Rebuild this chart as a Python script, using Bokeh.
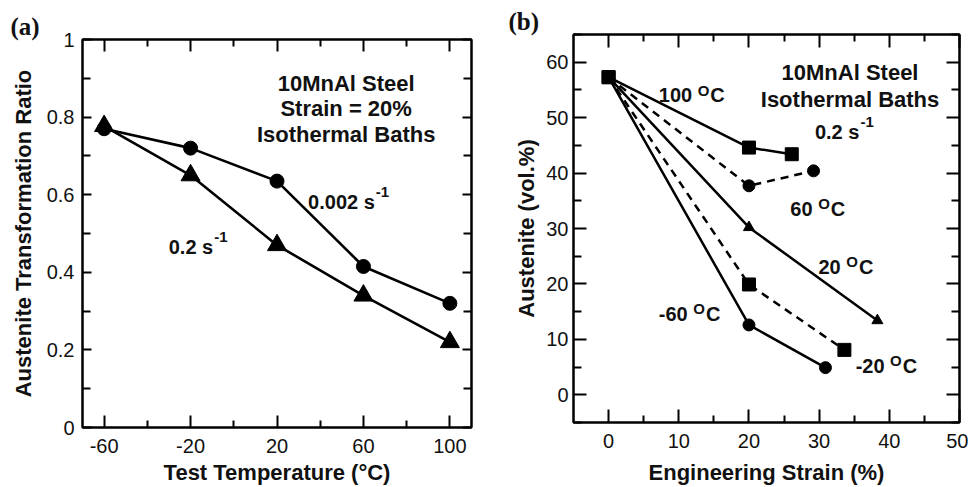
from bokeh.plotting import figure
from bokeh.layouts import row, column
from bokeh.models import FixedTicker, LinearAxis, Title, CustomJSTickFormatter
from bokeh.core.properties import value
from bokeh.embed import file_html
from bokeh.resources import INLINE

# ---------------- data: panel (a) ----------------
temp_a = [-60, -20, 20, 60, 100]
ratio_slow = [0.77, 0.72, 0.635, 0.415, 0.32]    # 0.002 s-1 (circles)
ratio_fast = [0.777, 0.65, 0.47, 0.34, 0.22]     # 0.2 s-1 (triangles)
a_xticks = [-60, -20, 20, 60, 100]
a_xminor = [-40, 0, 40, 80]
a_xlabels = {-60: "-60", -20: "-20", 20: "20", 60: "60", 100: "100"}
a_yticks = [0, 0.2, 0.4, 0.6, 0.8, 1.0]
a_yminor = [0.1, 0.3, 0.5, 0.7, 0.9]
a_ylabels = {0: "0", 0.2: "0.2", 0.4: "0.4", 0.6: "0.6", 0.8: "0.8", 1.0: "1"}

# ---------------- data: panel (b) ----------------
strain_100 = [0, 20, 26.1]
aus_100 = [57.3, 44.6, 43.4]
strain_60 = [0, 20, 29.2]
aus_60 = [57.3, 37.7, 40.4]
strain_20 = [0, 20, 38.3]
aus_20 = [57.3, 30.2, 13.4]
strain_m20 = [0, 20, 33.6]
aus_m20 = [57.3, 19.9, 8.1]
strain_m60 = [0, 20, 30.9]
aus_m60 = [57.3, 12.6, 4.9]
b_xticks = [0, 10, 20, 30, 40, 50]
b_xminor = [5, 15, 25, 35, 45]
b_yticks = [0, 10, 20, 30, 40, 50, 60]
b_yminor = [-5, 5, 15, 25, 35, 45, 55, 65]

SANS = "Liberation Sans"
BLOCK = 22   # boxed description text
ANN = 20     # curve labels
SUP = 15     # superscripts
INK = "#111111"
H = 487

# Arial-bold advance widths (em) for placing superscripts
AW = {"0": .556, "1": .556, "2": .556, "6": .556, ".": .278, " ": .278,
      "s": .556, "-": .333, "O": .778, "C": .722}


def tw(s, size):
    return sum(AW.get(c, .6) for c in s) * size


def style_axis(ax, major_in, minor_in, labels=True):
    ax.axis_line_width = 2
    ax.axis_line_color = "black"
    ax.major_tick_in = major_in
    ax.major_tick_out = 0
    ax.minor_tick_in = minor_in
    ax.minor_tick_out = 0
    ax.major_tick_line_width = 2
    ax.minor_tick_line_width = 2
    ax.major_tick_line_color = "black"
    ax.minor_tick_line_color = "black"
    if labels:
        ax.major_label_text_font = SANS
        ax.major_label_text_font_size = "20px"
        ax.major_label_text_color = INK
        ax.axis_label_text_font = SANS
        ax.axis_label_text_font_style = "bold"
        ax.axis_label_text_font_size = "22px"
        ax.axis_label_text_color = INK
    else:
        ax.formatter = CustomJSTickFormatter(code="return ''")
        ax.major_label_text_font_size = "0px"
        ax.major_label_standoff = 0


def make_fig(xr, yr, width, mbl, mbr, mbt, mbb, xt, xm, yt, ym, xmaj, xmin, ymaj, ymin,
             xlabel, ylabel, tag, tag_off):
    p = figure(width=width, height=H, x_range=xr, y_range=yr,
               output_backend="svg", toolbar_location=None,
               min_border_left=mbl, min_border_right=mbr,
               min_border_top=mbt, min_border_bottom=mbb)
    p.grid.visible = False
    p.outline_line_color = "black"
    p.outline_line_width = 2
    bx = p.below[0]
    ly = p.left[0]
    bx.ticker = FixedTicker(ticks=xt, minor_ticks=xm)
    ly.ticker = FixedTicker(ticks=yt, minor_ticks=ym)
    style_axis(bx, xmaj, xmin)
    style_axis(ly, ymaj, ymin)
    bx.axis_label = xlabel
    ly.axis_label = ylabel
    top = LinearAxis(ticker=FixedTicker(ticks=xt, minor_ticks=xm))
    style_axis(top, xmaj, xmin, labels=False)
    right = LinearAxis(ticker=FixedTicker(ticks=yt, minor_ticks=ym))
    style_axis(right, ymaj, ymin, labels=False)
    p.add_layout(top, "above")
    p.add_layout(right, "right")
    p.add_layout(Title(text=tag, align="left", offset=tag_off, standoff=0,
                       text_font="Liberation Serif", text_font_style="bold",
                       text_font_size="25px", text_color=INK), "above")
    return p, bx, ly


def txt(p, x, y, s, size=ANN, align="left", xo=0, yo=0):
    p.text(x=[x], y=[y], text=[s], text_font=value(SANS), text_font_style="bold",
           text_font_size=f"{size}px", text_align=align, text_baseline="alphabetic",
           text_color=INK, x_offset=xo, y_offset=yo)


def rate_label(p, x, y, main):
    txt(p, x, y, main)
    txt(p, x, y, "-1", size=SUP, xo=tw(main, ANN) + 1, yo=-10)


def temp_label(p, x, y, main):
    txt(p, x, y, main)
    w = tw(main, ANN)
    txt(p, x, y, "O", size=SUP, xo=w, yo=-5)
    txt(p, x, y, "C", xo=w + tw("O", SUP) + 1)


# ---------------- panel (a) ----------------
pa, ax_b, ax_l = make_fig((-70, 110), (0, 1), 485, 82, 14, 39, 60,
                          a_xticks, a_xminor, a_yticks, a_yminor, 12, 7, 9, 8,
                          "Test Temperature (°C)", "Austenite Transformation Ratio",
                          "(a)", -72)
ax_l.major_label_overrides = a_ylabels
ax_b.major_label_overrides = a_xlabels
ax_b.major_label_standoff = 11
ax_l.major_label_standoff = 8
ax_b.axis_label_standoff = 4
ax_l.axis_label_standoff = 8

pa.line(temp_a, ratio_slow, line_color="black", line_width=2.6)
pa.line(temp_a, ratio_fast, line_color="black", line_width=2.6)
pa.scatter(temp_a, ratio_slow, marker="circle", size=14, fill_color="black", line_color="black")
pa.scatter(temp_a, ratio_fast, marker="triangle", size=19, fill_color="black", line_color="black")

for yy, s in [(0.887, "10MnAl Steel"), (0.822, "Strain = 20%"), (0.754, "Isothermal Baths")]:
    txt(pa, 52, yy, s, size=BLOCK, align="center")
rate_label(pa, 34.4, 0.582, "0.002 s")
rate_label(pa, -30.1, 0.465, "0.2 s")

# ---------------- panel (b) ----------------
pb, bx_b, bx_l = make_fig((-5, 50), (-5, 65), 483, 88, 9, 34, 65,
                          b_xticks, b_xminor, b_yticks, b_yminor, 13, 7, 13, 8,
                          "Engineering Strain (%)", "Austenite (vol.%)",
                          "(b)", -65)
bx_b.major_label_standoff = 11
bx_l.major_label_standoff = 5
bx_b.axis_label_standoff = 9
bx_l.axis_label_standoff = 4

LW = 2.5
DASH = "8 6"
pb.line(strain_100, aus_100, line_color="black", line_width=LW)
pb.line(strain_60, aus_60, line_color="black", line_width=LW, line_dash=DASH)
pb.line(strain_20, aus_20, line_color="black", line_width=LW)
pb.line(strain_m20, aus_m20, line_color="black", line_width=LW, line_dash=DASH)
pb.line(strain_m60, aus_m60, line_color="black", line_width=LW)

pb.scatter(strain_20, aus_20, marker="triangle", size=11, fill_color="black", line_color="black")
pb.scatter(strain_60, aus_60, marker="circle", size=12, fill_color="black", line_color="black")
pb.scatter(strain_m60, aus_m60, marker="circle", size=12, fill_color="black", line_color="black")
pb.scatter(strain_m20, aus_m20, marker="square", size=13, fill_color="black", line_color="black")
pb.scatter(strain_100, aus_100, marker="square", size=13, fill_color="black", line_color="black")

txt(pb, 34.4, 58.2, "10MnAl Steel", size=BLOCK, align="center")
txt(pb, 34.4, 53.3, "Isothermal Baths", size=BLOCK, align="center")
rate_label(pb, 29.4, 47.5, "0.2 s")
temp_label(pb, 7.15, 54.0, "100 ")
temp_label(pb, 25.9, 33.6, "60 ")
temp_label(pb, 29.9, 23.1, "20 ")
temp_label(pb, 7.15, 14.6, "-60 ")
temp_label(pb, 35.2, 5.2, "-20 ")

layout = row(column(pa), column(pb))
open("out.html", "w").write(file_html(layout, INLINE))
